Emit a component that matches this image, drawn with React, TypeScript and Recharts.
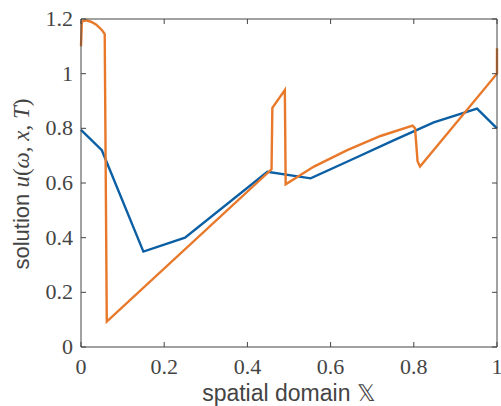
import { Label, Line, LineChart, XAxis, YAxis } from "recharts";

// blue curve
const blueX = [0, 0.05, 0.15, 0.25, 0.448, 0.552, 0.65, 0.75, 0.848, 0.952, 1.0];
const blueY = [0.794, 0.72, 0.349, 0.4, 0.641, 0.617, 0.685, 0.755, 0.822, 0.872, 0.8];

// orange curve
const orangeX = [
  0, 0.002, 0.012, 0.024, 0.036, 0.046, 0.052, 0.057, 0.062, 0.458, 0.46, 0.49,
  0.492, 0.56, 0.64, 0.72, 0.797, 0.803, 0.809, 0.815, 1.0, 1.0,
];
const orangeY = [
  1.1, 1.19, 1.195, 1.19, 1.18, 1.166, 1.156, 1.145, 0.093, 0.65, 0.875, 0.94,
  0.595, 0.66, 0.72, 0.772, 0.81, 0.8, 0.68, 0.66, 1.0, 1.093,
];

const xTicks = [0, 0.2, 0.4, 0.6, 0.8, 1];
const yTicks = [0, 0.2, 0.4, 0.6, 0.8, 1, 1.2];

const blueData = blueX.map((x, i) => ({ x, u: blueY[i] }));
const orangeData = orangeX.map((x, i) => ({ x, u: orangeY[i] }));

const axisColor = "#444";
const tickFont = "'Liberation Serif', serif";
const labelFont = "'Liberation Sans', Arial, sans-serif";

const fmt = (v: number) => (v === 0 || v === 1 ? String(v) : v.toFixed(1));

function BottomTick(props: any) {
  const { x, y, payload } = props;
  return (
    <g>
      <line x1={x} y1={y} x2={x} y2={y - 5} stroke={axisColor} />
      <text x={x} y={y + 27} textAnchor="middle" fill={axisColor} fontSize={22} fontFamily={tickFont}>
        {fmt(payload.value)}
      </text>
    </g>
  );
}

function TopTick(props: any) {
  const { x, y } = props;
  return <line x1={x} y1={y} x2={x} y2={y + 5} stroke={axisColor} />;
}

function LeftTick(props: any) {
  const { x, y, payload } = props;
  return (
    <g>
      <line x1={x} y1={y} x2={x + 5} y2={y} stroke={axisColor} />
      <text x={x - 8} y={y + 7} textAnchor="end" fill={axisColor} fontSize={22} fontFamily={tickFont}>
        {fmt(payload.value)}
      </text>
    </g>
  );
}

function RightTick(props: any) {
  const { x, y } = props;
  return <line x1={x} y1={y} x2={x - 5} y2={y} stroke={axisColor} />;
}

function YTitle() {
  return (
    <text transform="translate(29,184) rotate(-90)" textAnchor="middle" fill={axisColor} fontSize={22} fontFamily={labelFont}>
      solution{" "}
      <tspan fontFamily={tickFont} fontSize={23}>
        <tspan fontStyle="italic">u</tspan>(<tspan fontStyle="italic">ω</tspan>,{" "}
        <tspan fontStyle="italic">x</tspan>, <tspan fontStyle="italic">T</tspan>)
      </tspan>
    </text>
  );
}

function XTitle() {
  return (
    <text x={289} y={401} textAnchor="middle" fill={axisColor} fontSize={23} fontFamily={labelFont}>
      spatial domain 𝕏
    </text>
  );
}

export default function App() {
  return (
    <div style={{ position: "absolute", left: 0, top: 0, background: "#fff" }}>
      <LineChart width={501} height={406} margin={{ top: 18, right: 3, left: 21, bottom: 29 }}>
        <XAxis
          dataKey="x"
          type="number"
          domain={[0, 1]}
          ticks={xTicks}
          stroke={axisColor}
          tickSize={0}
          tickMargin={0}
          tick={<BottomTick />}
          height={30}
        >
          <Label content={<XTitle />} />
        </XAxis>
        <XAxis
          xAxisId="top"
          dataKey="x"
          orientation="top"
          type="number"
          domain={[0, 1]}
          ticks={xTicks}
          stroke={axisColor}
          tickSize={0}
          tickMargin={0}
          tick={<TopTick />}
          height={1}
        />
        <YAxis
          type="number"
          domain={[0, 1.2]}
          ticks={yTicks}
          stroke={axisColor}
          tickSize={0}
          tickMargin={0}
          tick={<LeftTick />}
          width={60}
        >
          <Label content={<YTitle />} />
        </YAxis>
        <YAxis
          yAxisId="right"
          orientation="right"
          type="number"
          domain={[0, 1.2]}
          ticks={yTicks}
          stroke={axisColor}
          tickSize={0}
          tickMargin={0}
          tick={<RightTick />}
          width={1}
        />
        <Line
          data={blueData}
          xAxisId="top"
          yAxisId="right"
          dataKey="u"
          type="linear"
          stroke="#0B5FA5"
          strokeWidth={2.4}
          dot={false}
          isAnimationActive={false}
        />
        <Line
          data={orangeData}
          dataKey="u"
          type="linear"
          stroke="#E8782A"
          strokeWidth={2.4}
          dot={false}
          isAnimationActive={false}
        />
      </LineChart>
    </div>
  );
}
